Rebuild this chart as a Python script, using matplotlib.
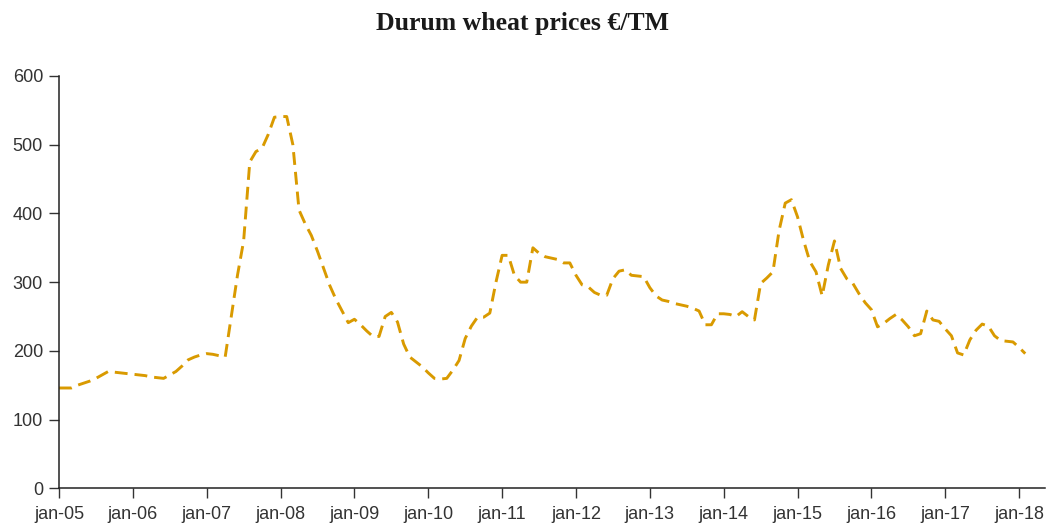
import matplotlib
matplotlib.use("Agg")
import matplotlib.pyplot as plt
import numpy as np

# Monthly durum wheat prices (€/TM), Jan 2005 .. Feb 2018
prices = [
    146, 146, 146, 150, 153, 156, 160, 165, 170, 169, 168, 167,   # 2005
    166, 165, 164, 162, 161, 160, 165, 170, 178, 187, 191, 194,   # 2006
    196, 195, 193, 191, 250, 310, 360, 475, 490, 495, 515, 540,   # 2007
    541, 541, 500, 405, 385, 368, 345, 320, 295, 275, 258, 241,   # 2008
    246, 238, 229, 221, 221, 250, 256, 242, 210, 191, 184, 177,   # 2009
    168, 160, 159, 160, 172, 186, 218, 236, 249, 249, 255, 300,   # 2010
    339, 339, 310, 300, 300, 350, 342, 337, 335, 333, 328, 328,   # 2011
    310, 296, 293, 285, 281, 281, 305, 316, 318, 310, 309, 308,   # 2012
    292, 280, 274, 272, 269, 267, 265, 262, 258, 238, 238, 254,   # 2013
    254, 253, 250, 257, 250, 245, 298, 306, 315, 375, 415, 420,   # 2014
    395, 360, 330, 315, 280, 325, 360, 320, 305, 298, 283, 270,   # 2015
    260, 235, 240, 247, 253, 245, 235, 222, 225, 258, 245, 243,   # 2016
    232, 222, 197, 194, 216, 230, 239, 236, 222, 215, 214, 213,   # 2017
    205, 196,                                                     # 2018
]
tick_labels = ["jan-05", "jan-06", "jan-07", "jan-08", "jan-09", "jan-10", "jan-11",
               "jan-12", "jan-13", "jan-14", "jan-15", "jan-16", "jan-17", "jan-18"]
y_ticks = [0, 100, 200, 300, 400, 500, 600]
title = "Durum wheat prices €/TM"

months = np.arange(len(prices))

fig = plt.figure(figsize=(10.46, 5.27), dpi=100)
ax = fig.add_axes([0.0564, 0.0734, 0.9426, 0.7824])

ax.plot(months, prices, color="#D99A00", lw=2.1, linestyle=(0, (4.4, 2.4)))

ax.set_xlim(0, 160.2)
ax.set_ylim(0, 600)
ax.set_xticks(np.arange(len(tick_labels)) * 12)
ax.set_xticklabels(tick_labels)
ax.set_yticks(y_ticks)

for s in ["top", "right"]:
    ax.spines[s].set_visible(False)
for s in ["left", "bottom"]:
    ax.spines[s].set_color("#222222")
    ax.spines[s].set_linewidth(1.1)

tick_font = ["Liberation Sans Narrow", "Liberation Sans", "DejaVu Sans"]
ax.tick_params(axis="both", direction="out", length=7.5, width=1.0, color="#333333",
               labelcolor="#333333", labelsize=13)
ax.tick_params(axis="x", pad=5)
ax.tick_params(axis="y", pad=4)
for lab in ax.get_xticklabels() + ax.get_yticklabels():
    lab.set_family(tick_font)

fig.text(0.5, 0.955, title, ha="center", va="center", fontsize=18.5, fontweight="bold",
         family=["Liberation Serif", "DejaVu Serif"], color="#1a1a1a")

fig.savefig("out.png", dpi=100)
